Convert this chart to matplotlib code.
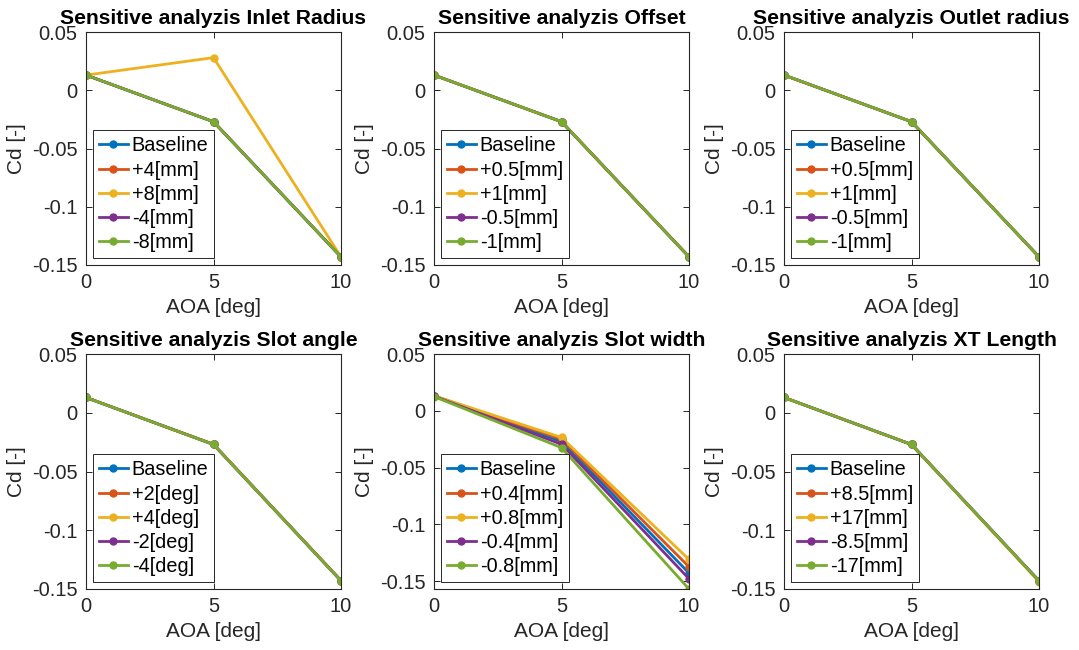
import numpy as np
import matplotlib
matplotlib.use("Agg")
import matplotlib.pyplot as plt

# ============================================================================
# DATA
# ============================================================================

aoa = [0, 5, 10]

titles = [
    "Sensitive analyzis Inlet Radius",
    "Sensitive analyzis Offset",
    "Sensitive analyzis Outlet radius",
    "Sensitive analyzis Slot angle",
    "Sensitive analyzis Slot width",
    "Sensitive analyzis XT Length",
]

labels_inlet = ["Baseline", "+4[mm]", "+8[mm]", "-4[mm]", "-8[mm]"]
labels_offset = ["Baseline", "+0.5[mm]", "+1[mm]", "-0.5[mm]", "-1[mm]"]
labels_outlet = ["Baseline", "+0.5[mm]", "+1[mm]", "-0.5[mm]", "-1[mm]"]
labels_angle = ["Baseline", "+2[deg]", "+4[deg]", "-2[deg]", "-4[deg]"]
labels_width = ["Baseline", "+0.4[mm]", "+0.8[mm]", "-0.4[mm]", "-0.8[mm]"]
labels_xt = ["Baseline", "+8.5[mm]", "+17[mm]", "-8.5[mm]", "-17[mm]"]

cd_inlet = [
    [0.013, -0.027, -0.143],
    [0.013, -0.027, -0.143],
    [0.013, 0.028, -0.143],
    [0.013, -0.027, -0.143],
    [0.013, -0.027, -0.143],
]
cd_offset = [
    [0.013, -0.027, -0.143],
    [0.013, -0.027, -0.143],
    [0.013, -0.027, -0.143],
    [0.013, -0.027, -0.143],
    [0.013, -0.027, -0.143],
]
cd_outlet = [
    [0.013, -0.027, -0.143],
    [0.013, -0.027, -0.143],
    [0.013, -0.027, -0.143],
    [0.013, -0.027, -0.143],
    [0.013, -0.027, -0.143],
]
cd_angle = [
    [0.013, -0.027, -0.143],
    [0.013, -0.0268, -0.1428],
    [0.013, -0.027, -0.143],
    [0.013, -0.027, -0.143],
    [0.013, -0.027, -0.143],
]
cd_width = [
    [0.013, -0.027, -0.143],
    [0.013, -0.025, -0.1375],
    [0.0132, -0.0235, -0.131],
    [0.0128, -0.0295, -0.148],
    [0.0125, -0.0325, -0.157],
]
cd_xt = [
    [0.013, -0.027, -0.143],
    [0.013, -0.027, -0.1432],
    [0.013, -0.027, -0.1438],
    [0.013, -0.027, -0.143],
    [0.013, -0.027, -0.143],
]

all_labels = [labels_inlet, labels_offset, labels_outlet,
              labels_angle, labels_width, labels_xt]
all_cd = [cd_inlet, cd_offset, cd_outlet, cd_angle, cd_width, cd_xt]

# MATLAB default colour order
colors = ["#0072BD", "#D95319", "#EDB120", "#7E2F8E", "#77AC30"]

# ============================================================================
# FIGURE
# ============================================================================

plt.rcParams["font.family"] = ["Liberation Sans", "DejaVu Sans"]
axis_color = "#262626"

W, H = 1079, 650
fig = plt.figure(figsize=(W / 100, H / 100), dpi=100)

lefts = [86, 434, 784]
rows = [(32, 265), (354, 589)]
ax_w = 255

for i in range(6):
    r, c = divmod(i, 3)
    top, bottom = rows[r]
    ax = fig.add_axes([lefts[c] / W, 1 - bottom / H, ax_w / W, (bottom - top) / H])

    for values, label, color in zip(all_cd[i], all_labels[i], colors):
        ax.plot(aoa, values, "-o", color=color, label=label,
                linewidth=2.0, markersize=5, markerfacecolor=color,
                markeredgecolor=color)

    ymin = min(-0.15, min(min(v) for v in all_cd[i]))
    ax.set_xlim(0, 10)
    ax.set_ylim(ymin, 0.05)
    ax.set_xticks([0, 5, 10])
    ax.set_yticks([-0.15, -0.1, -0.05, 0, 0.05])
    ax.set_yticklabels(["-0.15", "-0.1", "-0.05", "0", "0.05"])

    ax.tick_params(direction="in", length=4, width=0.7, colors=axis_color,
                   labelsize=14.5, top=True, right=True, pad=6)
    for spine in ax.spines.values():
        spine.set_color(axis_color)
        spine.set_linewidth(0.8)

    ax.set_xlabel("AOA [deg]", fontsize=15, color=axis_color, labelpad=4)
    ax.set_ylabel("Cd [-]", fontsize=15, color=axis_color, labelpad=4)
    ax.set_title(titles[i], fontsize=15.2, fontweight="bold", pad=6)

    leg = ax.legend(loc="lower left", fontsize=14.3, frameon=True, fancybox=False,
                    framealpha=1, edgecolor=axis_color, handlelength=1.45,
                    handletextpad=0.2, labelspacing=0.26, borderpad=0.3,
                    borderaxespad=0.35)
    leg.get_frame().set_linewidth(0.7)

fig.savefig("out.png", dpi=100)
